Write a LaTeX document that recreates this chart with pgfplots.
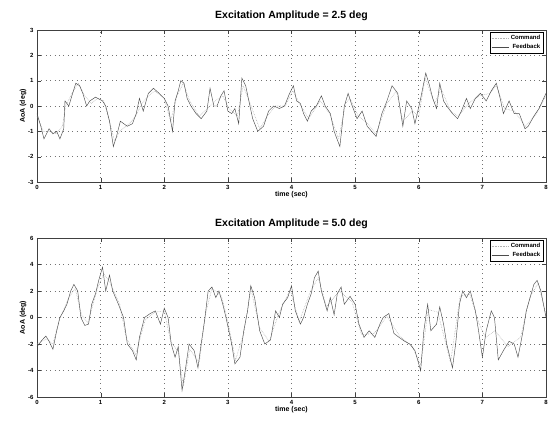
\documentclass[border=0pt]{standalone}
\usepackage{fontspec}
\setmainfont{Liberation Sans}
\usepackage{pgfplots}
\pgfplotsset{compat=1.18}
\pgfplotsset{
  exc/.style={
    scale only axis, width=509pt,
    xmin=0, xmax=8, xtick={0,...,8},
    grid=major, major grid style={loosely dotted, black!55, line width=0.6pt},
    axis line style={black!75, line width=0.6pt},
    tick style={black!75},
    tick label style={font=\fontsize{6}{7}\selectfont\bfseries},
    /pgf/number format/assume math mode=true,
    label style={font=\fontsize{7}{8}\selectfont\bfseries},
    title style={font=\fontsize{10.5}{12}\selectfont\bfseries, yshift=0pt},
    xlabel={time (sec)}, ylabel={AoA (deg)},
    xlabel style={yshift=5pt}, ylabel style={yshift=-5pt},
    legend style={at={(0.995,0.985)}, anchor=north east, font=\fontsize{6}{7}\selectfont\bfseries,
      draw=black, inner sep=1pt, row sep=-1pt, cells={anchor=east}},
    legend cell align=right,
  }
}
\begin{document}
\begin{tikzpicture}
\useasboundingbox (-37pt,-239pt) rectangle (512pt,182pt);
\begin{axis}[exc, height=152pt, ymin=-3, ymax=3, ytick={-3,...,3},
  title={Excitation Amplitude = 2.5 deg}]
\addplot[gray!60, densely dotted, line width=0.6pt] coordinates {
(0,-0.4) (0.1,-1.0) (0.2,-1.0) (0.3,-1.1) (0.4,-0.8) (0.45,0.0) (0.55,0.5) (0.65,0.9) (0.75,0.4)
(0.85,0.1) (0.95,0.3) (1.05,0.2) (1.15,-0.7) (1.22,-1.4) (1.3,-1.0) (1.45,-0.7) (1.55,-0.4)
(1.65,0.1) (1.75,0.4) (1.85,0.6) (2.0,0.3) (2.1,-0.6) (2.2,0.4) (2.3,0.9) (2.4,0.2) (2.55,-0.4)
(2.68,-0.1) (2.8,0.2) (2.92,0.4) (3.02,-0.1) (3.15,-0.4) (3.24,0.8) (3.35,0.1) (3.5,-0.9)
(3.62,-0.4) (3.75,0.0) (3.9,0.0) (4.02,0.6) (4.15,0.0) (4.27,-0.5) (4.45,0.2) (4.6,-0.3)
(4.74,-1.3) (4.85,0.1) (4.92,0.3) (5.05,-0.4) (5.2,-0.7) (5.33,-1.1) (5.5,0.1) (5.65,0.6)
(5.75,-0.6) (5.9,-0.2) (6.0,-0.4) (6.1,1.1) (6.25,0.1) (6.35,0.7) (6.5,-0.2) (6.62,-0.4)
(6.78,0.1) (6.95,0.4) (7.12,0.5) (7.22,0.8) (7.35,-0.1) (7.5,-0.2) (7.68,-0.8) (7.85,-0.3) (8,0.4)};
\addplot[black!70, line width=0.45pt] coordinates {
(0,-0.3) (0.06,-0.8) (0.11,-1.3) (0.19,-0.9) (0.25,-1.1) (0.31,-1.0) (0.36,-1.3) (0.42,-0.9)
(0.44,0.2) (0.5,0.0) (0.56,0.5) (0.61,0.9) (0.67,0.8) (0.72,0.5) (0.78,0.0) (0.83,0.2) (0.92,0.35)
(1.03,0.2) (1.08,0.0) (1.14,-0.6) (1.2,-1.6) (1.25,-1.2) (1.31,-0.6) (1.42,-0.8) (1.5,-0.7)
(1.56,-0.3) (1.61,0.3) (1.67,-0.2) (1.75,0.5) (1.83,0.7) (1.92,0.5) (2.0,0.3) (2.06,0.0)
(2.13,-1.0) (2.17,0.2) (2.22,0.6) (2.26,1.0) (2.31,0.9) (2.36,0.3) (2.42,0.0) (2.5,-0.3)
(2.58,-0.5) (2.67,-0.2) (2.72,0.7) (2.78,0.0) (2.83,0.0) (2.89,0.4) (2.94,0.6) (3.0,-0.2)
(3.06,-0.3) (3.11,-0.1) (3.17,-0.7) (3.22,1.1) (3.28,0.8) (3.33,0.2) (3.39,-0.5) (3.47,-1.0)
(3.56,-0.8) (3.64,-0.2) (3.72,0.0) (3.81,-0.1) (3.89,0.0) (3.97,0.5) (4.03,0.8) (4.08,0.2)
(4.14,0.1) (4.19,-0.3) (4.25,-0.6) (4.31,-0.2) (4.39,0.0) (4.47,0.4) (4.53,0.0) (4.61,-0.3)
(4.67,-1.0) (4.76,-1.6) (4.83,0.0) (4.89,0.5) (4.94,0.1) (5.03,-0.5) (5.11,-0.2) (5.19,-0.8)
(5.33,-1.2) (5.42,-0.3) (5.5,0.2) (5.58,0.8) (5.67,0.5) (5.75,-0.8) (5.81,0.2) (5.89,-0.1)
(5.94,-0.7) (6.03,0.3) (6.11,1.3) (6.17,0.8) (6.22,0.3) (6.28,-0.1) (6.33,0.9) (6.39,0.2)
(6.44,0.0) (6.53,-0.3) (6.61,-0.5) (6.67,-0.2) (6.75,0.3) (6.81,-0.1) (6.89,0.3) (6.97,0.5)
(7.06,0.2) (7.14,0.6) (7.22,0.9) (7.28,0.3) (7.33,-0.3) (7.42,0.2) (7.5,-0.3) (7.58,-0.3)
(7.67,-0.9) (7.72,-0.8) (7.81,-0.4) (7.89,-0.1) (8.0,0.5)};
\legend{Command,Feedback}
\end{axis}
\begin{axis}[exc, at={(0,-215pt)}, height=159pt, ymin=-6, ymax=6, ytick={-6,-4,...,6},
  title={Excitation Amplitude = 5.0 deg}]
\addplot[gray!60, densely dotted, line width=0.6pt] coordinates {
(0,-2.0) (0.15,-1.6) (0.25,-2.0) (0.35,-0.2) (0.5,1.5) (0.6,2.2) (0.7,0.2) (0.8,-0.4) (0.95,2.2)
(1.05,3.3) (1.15,2.6) (1.3,1.0) (1.4,-1.5) (1.55,-2.8) (1.7,-0.2) (1.85,0.4) (2.0,0.5)
(2.1,-1.8) (2.22,-2.6) (2.3,-5.2) (2.4,-2.4) (2.55,-3.4) (2.65,0.3) (2.75,2.2) (2.9,1.6)
(3.0,-0.3) (3.12,-3.2) (3.25,-1.2) (3.36,2.2) (3.5,-0.8) (3.65,-1.8) (3.8,0.3) (3.98,2.1)
(4.12,-0.3) (4.3,2.0) (4.42,3.0) (4.55,0.8) (4.75,2.0) (4.95,1.2) (5.1,-1.3) (5.3,-1.2)
(5.5,0.1) (5.7,-1.4) (5.9,-2.2) (6.03,-3.6) (6.15,0.6) (6.3,0.4) (6.5,-3.4) (6.65,1.6)
(6.8,1.8) (6.95,-0.5) (7.05,-1.5) (7.2,-1.0) (7.4,-2.2) (7.6,-1.5) (7.75,1.6) (7.88,2.6) (8,0.2)};
\addplot[black!70, line width=0.45pt] coordinates {
(0,-2.2) (0.08,-1.7) (0.14,-1.4) (0.19,-1.8) (0.25,-2.4) (0.31,-1.0) (0.36,0.0) (0.42,0.5)
(0.47,1.0) (0.53,2.0) (0.58,2.5) (0.64,2.0) (0.69,0.0) (0.75,-0.6) (0.81,-0.5) (0.86,1.0)
(0.92,1.8) (0.97,2.8) (1.03,3.8) (1.08,2.0) (1.14,3.2) (1.19,2.0) (1.28,1.0) (1.36,0.0)
(1.42,-2.0) (1.5,-2.5) (1.56,-3.2) (1.61,-1.5) (1.69,0.0) (1.78,0.3) (1.86,0.5) (1.94,-0.5)
(2.0,0.7) (2.06,0.0) (2.11,-2.0) (2.17,-3.0) (2.22,-2.2) (2.28,-5.5) (2.33,-4.0) (2.39,-2.0)
(2.47,-2.5) (2.53,-3.8) (2.58,-2.0) (2.64,0.0) (2.69,2.0) (2.75,2.3) (2.81,1.5) (2.86,2.0)
(2.92,1.0) (2.97,0.0) (3.06,-2.0) (3.11,-3.5) (3.19,-3.0) (3.25,-1.0) (3.31,0.5) (3.36,2.4)
(3.42,1.5) (3.5,-1.0) (3.58,-2.0) (3.67,-1.7) (3.75,0.5) (3.81,0.0) (3.86,1.0) (3.94,1.5)
(4.0,2.4) (4.06,0.5) (4.14,-0.5) (4.19,0.0) (4.25,1.0) (4.31,1.8) (4.36,3.0) (4.42,3.5)
(4.47,2.0) (4.56,0.5) (4.61,1.5) (4.67,0.2) (4.72,1.8) (4.78,2.3) (4.83,1.0) (4.92,1.6)
(5.0,1.0) (5.06,-0.5) (5.14,-1.5) (5.22,-1.0) (5.31,-1.5) (5.39,-0.5) (5.44,0.0) (5.53,0.3)
(5.61,-1.2) (5.69,-1.5) (5.78,-1.8) (5.86,-2.0) (5.94,-2.5) (6.03,-4.0) (6.08,-1.0) (6.14,1.0)
(6.19,-1.0) (6.28,-0.5) (6.33,0.8) (6.39,-0.5) (6.44,-2.0) (6.53,-3.8) (6.58,-2.0) (6.64,1.0)
(6.69,2.0) (6.75,1.5) (6.81,2.0) (6.89,0.5) (6.94,-1.0) (7.0,-3.0) (7.06,-1.0) (7.14,0.5)
(7.19,0.0) (7.25,-3.2) (7.33,-2.5) (7.42,-1.8) (7.5,-2.0) (7.56,-3.0) (7.64,-1.0) (7.69,0.5)
(7.75,1.5) (7.81,2.5) (7.86,2.8) (7.92,2.0) (8.0,0.0)};
\legend{Command,Feedback}
\end{axis}
\end{tikzpicture}
\end{document}
